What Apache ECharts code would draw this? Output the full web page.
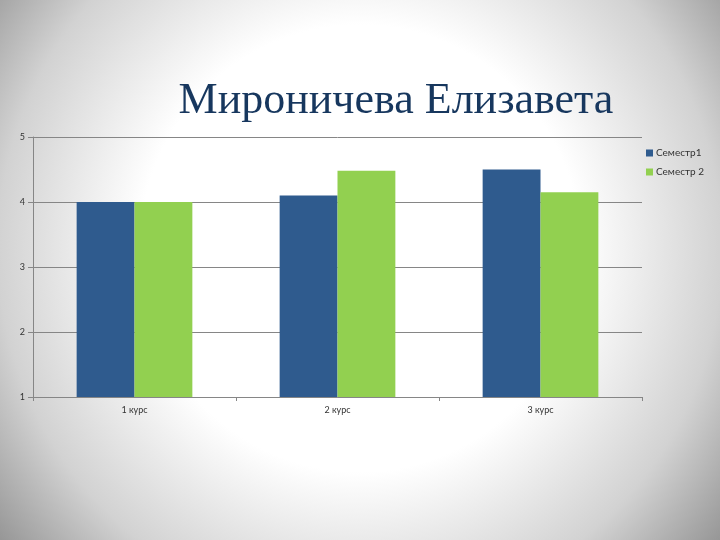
<!DOCTYPE html>
<html>
<head>
<meta charset="utf-8">
<script src="https://cdn.jsdelivr.net/npm/echarts@6/dist/echarts.min.js"></script>
<style>
  html, body { margin: 0; padding: 0; }
  body {
    width: 720px; height: 540px;
    background: radial-gradient(ellipse 68% 92% at 50% 46%, #ffffff 0%, #ffffff 45%, #d2d2d2 74%, #858585 100%);
  }
  #chart { width: 720px; height: 540px; }
</style>
</head>
<body>
<div id="chart"></div>
<script>
// данные
var titleText = 'Мироничева Елизавета'
var categories = ['1 курс', '2 курс', '3 курс']
var seriesNames = ['Семестр1', 'Семестр 2']
var sem1 = [4.0, 4.1, 4.5]
var sem2 = [4.0, 4.48, 4.15]
var yTicks = [1, 2, 3, 4, 5]

var myChart = echarts.init(document.getElementById('chart'))
var labelFont = 'Lato, "Open Sans", sans-serif'

var option = {
  backgroundColor: 'transparent',
  title: {
    text: titleText,
    left: 391,
    top: 74,
    textAlign: 'center',
    textStyle: {
      fontFamily: '"Liberation Serif", "DejaVu Serif", serif',
      fontWeight: 'normal',
      fontSize: 44,
      color: '#17375e'
    }
  },
  legend: {
    orient: 'vertical',
    left: 641,
    top: 143,
    itemWidth: 7,
    itemHeight: 7,
    itemGap: 9,
    icon: 'rect',
    data: seriesNames,
    textStyle: { fontFamily: labelFont, fontSize: 10, color: '#333', padding: [0, 0, 0, -2] }
  },
  grid: { left: 33, right: 78, top: 137, bottom: 143 },
  xAxis: {
    type: 'category',
    data: categories,
    axisLine: { lineStyle: { color: '#868686', width: 1 } },
    axisTick: { show: true, length: 4, lineStyle: { color: '#868686' } },
    axisLabel: { fontFamily: labelFont, fontSize: 9, color: '#333', margin: 9 }
  },
  yAxis: {
    type: 'value',
    min: yTicks[0],
    max: yTicks[yTicks.length - 1],
    interval: 1,
    axisLine: { show: true, lineStyle: { color: '#868686', width: 1 } },
    axisTick: { show: true, length: 5, lineStyle: { color: '#868686' } },
    axisLabel: { fontFamily: labelFont, fontSize: 9, color: '#333', margin: 8 },
    splitLine: { lineStyle: { color: '#868686', width: 1 } }
  },
  series: [
    {
      name: seriesNames[0],
      type: 'bar',
      data: sem1,
      barWidth: '28.5%',
      barGap: '0%',
      itemStyle: { color: '#2f5b8e' }
    },
    {
      name: seriesNames[1],
      type: 'bar',
      data: sem2,
      barWidth: '28.5%',
      barGap: '0%',
      itemStyle: { color: '#92d050' }
    }
  ]
}
myChart.setOption(option)
</script>
</body>
</html>
